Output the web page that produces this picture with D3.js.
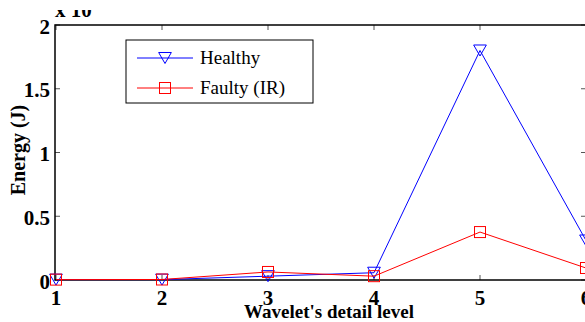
<!DOCTYPE html>
<html lang="en">
<head>
    <meta charset="UTF-8">
    <title>Wavelet detail energy</title>
    <script src="https://d3js.org/d3.v7.min.js"></script>
    <style>
        body { margin: 0; background: #fff; }
        svg { display: block; font-family: "Liberation Serif", "Times New Roman", serif; }
        .tick-label { font-size: 21px; font-weight: bold; }
        .axis-title { font-size: 19px; font-weight: bold; }
        .legend text { font-size: 19px; }
    </style>
</head>
<body>
    <div id="chart"></div>
    <script>
        var levels = [1, 2, 3, 4, 5, 6];
        var healthy = [0.003, 0.003, 0.03, 0.057, 1.8, 0.31];
        var faulty = [0.003, 0.004, 0.063, 0.03, 0.376, 0.094];
        var yTicks = [0, 0.5, 1, 1.5, 2];
        var yTickLabels = ["0", "0.5", "1", "1.5", "2"];

        var width = 585, height = 322;
        // plot box edges (top/left are reserved window names, so prefix them)
        var pLeft = 55, pRight = 586, pTop = 25, pBottom = 280;

        var svg = d3.select("#chart").append("svg")
            .attr("width", width)
            .attr("height", height);

        var x = d3.scaleLinear().domain([1, 6]).range([pLeft + 1, pRight]);
        var y = d3.scaleLinear().domain([0, 2]).range([pBottom, pTop]);

        // ticks (inside, on all four sides)
        var tk = 5;
        levels.forEach(function(d) {
            svg.append("line").attr("x1", x(d)).attr("x2", x(d))
                .attr("y1", pBottom).attr("y2", pBottom - tk)
                .attr("stroke", "#555").attr("stroke-width", 1);
            svg.append("line").attr("x1", x(d)).attr("x2", x(d))
                .attr("y1", pTop).attr("y2", pTop + tk)
                .attr("stroke", "#555").attr("stroke-width", 1);
        });
        yTicks.forEach(function(d) {
            svg.append("line").attr("x1", pLeft).attr("x2", pLeft + tk)
                .attr("y1", y(d)).attr("y2", y(d))
                .attr("stroke", "#555").attr("stroke-width", 1);
            svg.append("line").attr("x1", pRight - tk).attr("x2", pRight)
                .attr("y1", y(d)).attr("y2", y(d))
                .attr("stroke", "#555").attr("stroke-width", 1);
        });

        // box
        svg.append("rect")
            .attr("x", pLeft).attr("y", pTop)
            .attr("width", pRight - pLeft).attr("height", pBottom - pTop)
            .attr("fill", "none").attr("stroke", "#000").attr("stroke-width", 1.5);

        // tick labels
        svg.selectAll("text.ytl").data(yTicks).enter().append("text")
            .attr("class", "tick-label ytl")
            .attr("x", pLeft - 5)
            .attr("y", function(d) { return y(d) + 8.5; })
            .attr("text-anchor", "end")
            .text(function(d, i) { return yTickLabels[i]; });

        svg.selectAll("text.xtl").data(levels).enter().append("text")
            .attr("class", "tick-label xtl")
            .attr("x", function(d) { return x(d); })
            .attr("y", pBottom + 25)
            .attr("text-anchor", "middle")
            .text(function(d) { return d; });

        // exponent label, its upper half is cropped off in the original
        svg.append("clipPath").attr("id", "expclip")
            .append("rect").attr("x", 0).attr("y", 10).attr("width", 200).attr("height", 20);
        svg.append("text").attr("class", "tick-label")
            .attr("clip-path", "url(#expclip)")
            .attr("x", 55).attr("y", 17).text("x 10");

        svg.append("text").attr("class", "axis-title")
            .attr("x", 329).attr("y", 318)
            .attr("text-anchor", "middle")
            .text("Wavelet's detail level");

        svg.append("text").attr("class", "axis-title")
            .style("font-size", "20px")
            .attr("transform", "translate(25," + 150 + ") rotate(-90)")
            .attr("text-anchor", "middle")
            .text("Energy (J)");

        var line = d3.line()
            .x(function(d, i) { return x(levels[i]); })
            .y(function(d) { return y(d); });

        var triSize = 70;
        var triH = Math.sqrt(triSize * Math.sqrt(3));
        var tri = d3.symbol().type(d3.symbolTriangle).size(triSize);

        function drawMarker(cx, cy, color, marker) {
            if (marker === "tri") {
                svg.append("path")
                    .attr("d", tri)
                    .attr("transform", "translate(" + cx + "," + (cy - triH / 6) + ") rotate(180)")
                    .attr("fill", "none").attr("stroke", color).attr("stroke-width", 1);
            } else {
                svg.append("rect")
                    .attr("x", cx - 5.5).attr("y", cy - 5.5)
                    .attr("width", 11).attr("height", 11)
                    .attr("fill", "none").attr("stroke", color).attr("stroke-width", 1);
            }
        }

        function series(vals, color, marker) {
            svg.append("path").datum(vals)
                .attr("d", line)
                .attr("fill", "none").attr("stroke", color).attr("stroke-width", 1);
            vals.forEach(function(v, i) {
                drawMarker(x(levels[i]), y(v), color, marker);
            });
        }

        series(healthy, "#0000ff", "tri");
        series(faulty, "#ff0000", "sq");

        // legend
        var lg = svg.append("g").attr("class", "legend");
        lg.append("rect")
            .attr("x", 126).attr("y", 40).attr("width", 187).attr("height", 63)
            .attr("fill", "#fff").attr("stroke", "#000").attr("stroke-width", 1);
        var items = [["Healthy", "#0000ff", "tri"], ["Faulty (IR)", "#ff0000", "sq"]];
        items.forEach(function(it, i) {
            var ly = 58 + i * 30;
            lg.append("line").attr("x1", 137).attr("x2", 193)
                .attr("y1", ly).attr("y2", ly)
                .attr("stroke", it[1]).attr("stroke-width", 1);
            drawMarker(165, ly, it[1], it[2]);
            lg.append("text").attr("x", 200).attr("y", ly + 6).text(it[0]);
        });
    </script>
</body>
</html>
